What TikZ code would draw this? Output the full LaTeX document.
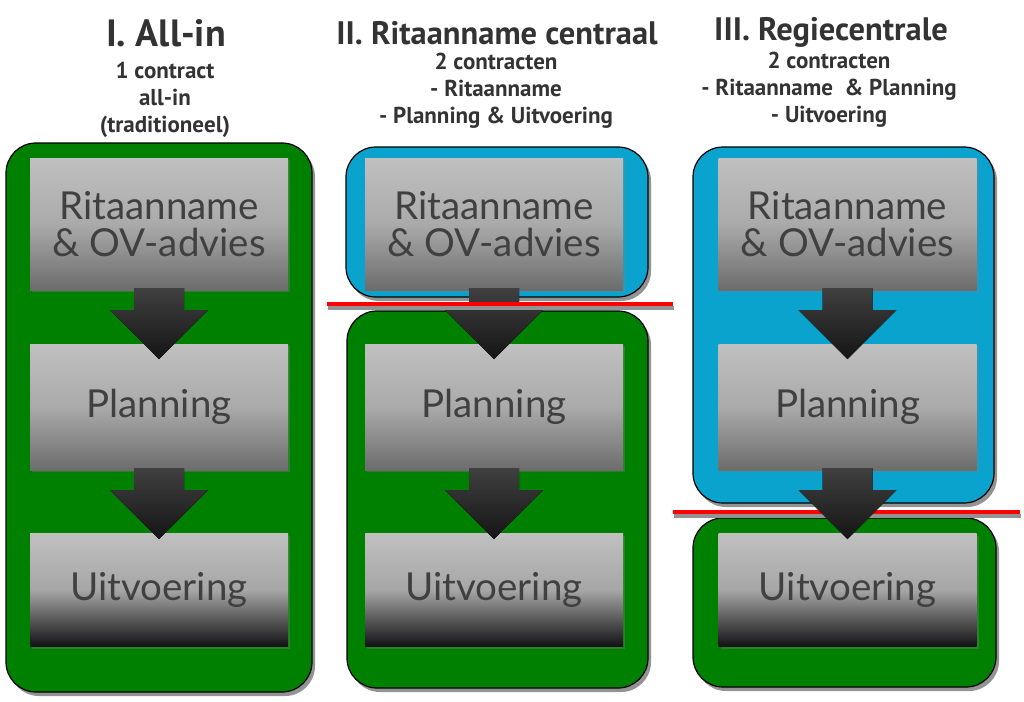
\documentclass[tikz,border=0pt]{standalone}
\usepackage{fontspec}
\setmainfont{Lato}
\newfontfamily\headfont{PT Sans}
\usetikzlibrary{positioning, shadows, calc}

\definecolor{panelgreen}{RGB}{0,128,0}
\definecolor{panelblue}{RGB}{10,163,206}
\definecolor{boxtext}{RGB}{64,64,64}
\definecolor{headtext}{RGB}{51,51,51}
\definecolor{boxtop}{RGB}{192,192,192}
\definecolor{boxmid}{RGB}{170,170,170}
\definecolor{boxlow}{RGB}{108,108,108}
\definecolor{boxdark}{RGB}{18,18,20}

\tikzset{
  stage/.style={rectangle, minimum width=258pt, inner sep=0pt, align=center,
    text=boxtext, font=\fontsize{38.5}{37}\selectfont,
    top color=boxtop, bottom color=boxlow, middle color=boxmid,
    drop shadow={shadow xshift=2pt, shadow yshift=-2pt, opacity=0.35}},
  laststage/.style={stage, top color=boxtop, bottom color=boxdark, middle color=gray!70},
  panel/.style={draw=black, line width=1.2pt, rounded corners=30pt,
    drop shadow={shadow xshift=3pt, shadow yshift=-4pt, fill=gray!85, opacity=1}},
  cut/.style={red, line width=4.5pt},
  cutshadow/.style={gray!85, line width=4.5pt},
  head/.style={anchor=base, inner sep=0pt, text=headtext, font=\headfont\bfseries\fontsize{32.5}{32}\selectfont},
  sub/.style={anchor=north, align=center, inner sep=0pt, text=headtext,
    font=\headfont\bfseries\fontsize{23}{27}\selectfont},
  flowshade/.style={top color=gray!50!black, bottom color=black!92}
}

% pijl van een blok naar het volgende
\newcommand\flow[2]{%
  \fill[flowshade] ($(#1.south)+(-25,-2)$) -- ($(#1.south)+(-25,20)$)
    -- ($(#1.south)+(-49,20)$) -- ($(#2.north)!1!($(#1.south)+(0,69)$)$)
    -- ($(#1.south)+(49,20)$) -- ($(#1.south)+(25,20)$)
    -- ($(#1.south)+(25,-2)$) -- cycle;}

\begin{document}
\begin{tikzpicture}[x=1pt, y=-1pt, node distance=183pt, on grid]
   \useasboundingbox[fill=white] (0,0) rectangle (1024,701);

   % koppen
   \node[head, font=\headfont\bfseries\fontsize{38}{38}\selectfont] (t_1) at (166,47) {I. All-in};
   \node[head] (t_2) at (497,45) {II. Ritaanname centraal};
   \node[head] (t_3) at (831,41) {III. Regiecentrale};
   \node[sub] (s_1) at (165,62) {1 contract\\all-in\\(traditioneel)};
   \node[sub] (s_2) at (496,53) {2 contracten\\- Ritaanname\\- Planning \& Uitvoering};
   \node[sub] (s_3) at (829,52) {2 contracten\\- Ritaanname \ \& Planning\\- Uitvoering};

   % contracten
   \fill[panelgreen, panel] (6,143) rectangle (312,692);
   \fill[panelblue, panel] (346,147) rectangle (648,297);
   \fill[panelgreen, panel] (347,311) rectangle (648,688);
   \fill[panelblue, panel] (693,147) rectangle (994,503);
   \fill[panelgreen, panel] (693,518) rectangle (996,687);

   % blokken
   \foreach \c/\x in {1/159, 2/494, 3/847.5} {
     \node[stage, minimum height=132pt] (r_\c) at (\x,224) {Ritaanname\\\& OV-advies};
     \node[stage, minimum height=126pt] (p_\c) [below=of r_\c] {Planning};
     \node[laststage, minimum height=113pt] (u_\c) [below=of p_\c] {Uitvoering};
   }

   \flow{r_1}{p_1}
   \flow{p_1}{u_1}
   \flow{r_2}{p_2}
   \flow{p_2}{u_2}
   \draw[cutshadow] (328,308) -- (674,308);
   \draw[cut] (327,304) -- (673,304);
   \draw[cutshadow] (674,516) -- (1021,516);
   \draw[cut] (673,512) -- (1020,512);
   \flow{r_3}{p_3}
   \flow{p_3}{u_3}
\end{tikzpicture}
\end{document}
